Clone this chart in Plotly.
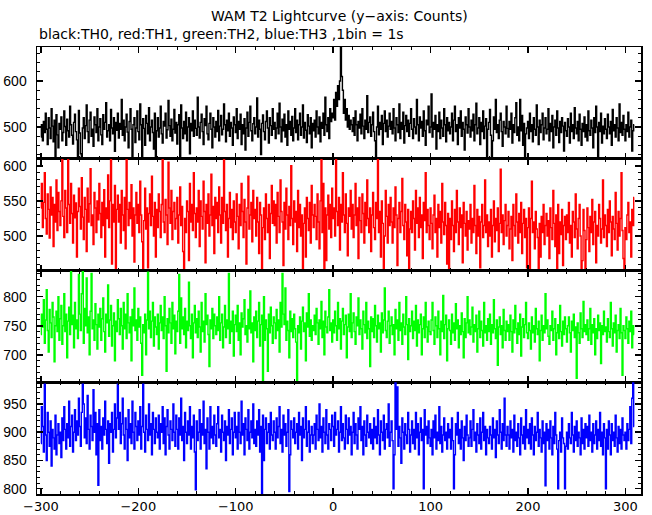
import plotly.graph_objects as go

X_START = -300

# TH0 (black) counts per 1 s bin, x = -300 .. 309
th0 = [
    478, 505, 470, 512, 488, 530, 495, 462, 520, 498, 475, 540, 502, 468, 515, 435, 527, 483, 455, 508,
    495, 522, 470, 488, 535, 501, 460, 517, 492, 478, 545, 505, 482, 463, 510, 528, 490, 472, 436, 536,
    487, 442, 433, 498, 520, 475, 503, 548, 490, 466, 515, 532, 480, 495, 458, 522, 505, 488, 540, 470,
    500, 518, 483, 462, 527, 495, 510, 553, 478, 492, 505, 470, 538, 498, 485, 520, 447, 510, 493, 530,
    476, 508, 495, 560, 482, 515, 470, 500, 528, 489, 455, 512, 540, 495, 435, 505, 520, 466, 498, 535,
    490, 472, 550, 505, 433, 518, 497, 460, 525, 508, 485, 542, 470, 500, 515, 488, 452, 530, 436, 492,
    520, 478, 498, 545, 485, 465, 512, 502, 530, 476, 494, 558, 503, 480, 517, 470, 495, 538, 487, 510,
    463, 505, 527, 434, 548, 498, 475, 512, 485, 532, 470, 500, 520, 442, 508, 492, 535, 480, 515, 497,
    482, 565, 500, 476, 510, 528, 490, 462, 518, 503, 545, 485, 472, 508, 530, 495, 455, 520, 500, 478,
    512, 490, 536, 470, 502, 525, 483, 495, 550, 505, 468, 515, 492, 530, 480, 510, 498, 460, 522, 505,
    488, 540, 475, 512, 495, 528, 462, 505, 485, 518, 450, 498, 532, 480, 510, 545, 492, 470, 507, 520,
    485, 500, 563, 478, 515, 495, 440, 508, 526, 490, 472, 512, 535, 498, 465, 520, 503, 482, 540, 495,
    510, 475, 498, 530, 485, 552, 500, 468, 517, 492, 528, 478, 505, 460, 535, 495, 512, 482, 523, 470,
    498, 540, 488, 515, 472, 505, 530, 482, 500, 548, 476, 510, 493, 466, 527, 502, 485, 520, 455, 508,
    492, 515, 478, 535, 500, 485, 522, 468, 510, 497, 530, 482, 565, 505, 490, 520, 475, 540, 512, 530,
    520, 560, 515, 575, 545, 590, 560, 600, 700, 610, 580, 530, 560, 515, 540, 500, 525, 495, 515, 505,
    490, 520, 482, 535, 505, 470, 512, 498, 528, 485, 540, 502, 475, 515, 495, 568, 488, 510, 522, 480,
    505, 532, 490, 470, 434, 500, 545, 483, 510, 495, 525, 462, 508, 535, 490, 515, 478, 502, 530, 495,
    512, 485, 540, 498, 470, 520, 505, 488, 550, 475, 510, 495, 532, 465, 503, 525, 490, 515, 480, 508,
    540, 495, 475, 518, 500, 485, 560, 505, 470, 522, 498, 512, 480, 535, 492, 460, 515, 505, 545, 488,
    500, 572, 478, 510, 495, 525, 452, 505, 490, 532, 475, 515, 498, 480, 540, 505, 468, 520, 492, 510,
    485, 500, 530, 470, 515, 545, 490, 505, 462, 520, 498, 535, 480, 510, 495, 450, 522, 505, 487, 540,
    500, 478, 515, 492, 528, 470, 505, 552, 485, 498, 520, 462, 510, 490, 535, 475, 502, 518, 434, 495,
    510, 538, 482, 434, 470, 522, 495, 560, 488, 505, 475, 515, 530, 490, 458, 512, 500, 485, 545, 497,
    478, 512, 495, 530, 465, 505, 488, 520, 553, 482, 500, 470, 560, 492, 525, 460, 508, 433, 485, 498,
    512, 475, 530, 490, 505, 468, 520, 495, 482, 548, 500, 462, 515, 488, 505, 530, 472, 498, 520, 485,
    495, 540, 470, 508, 490, 525, 455, 500, 515, 482, 535, 498, 466, 512, 488, 520, 502, 448, 510, 492,
    480, 518, 500, 465, 530, 490, 505, 475, 542, 498, 485, 512, 470, 528, 495, 460, 508, 490, 522, 478,
    505, 470, 535, 492, 482, 515, 498, 455, 520, 488, 545, 500, 434, 510, 490, 530, 465, 502, 485, 518,
    495, 475, 528, 500, 485, 512, 460, 538, 492, 505, 478, 520, 498, 470, 550, 488, 510, 482, 525, 495,
    470, 505, 490, 532, 478, 500, 515, 448, 492, 505,
]

# TH1 (red)
th1 = [
    540, 575, 512, 548, 590, 525, 503, 560, 538, 497, 570, 530, 555, 485, 545, 520, 580, 508, 562, 535,
    515, 550, 612, 528, 498, 565, 540, 505, 612, 545, 518, 575, 532, 490, 558, 526, 547, 470, 535, 568,
    542, 510, 583, 527, 495, 555, 538, 478, 568, 520, 546, 596, 515, 530, 488, 562, 540, 505, 550, 523,
    575, 532, 498, 548, 515, 566, 470, 540, 525, 587, 512, 550, 612, 460, 545, 520, 572, 448, 538, 558,
    520, 545, 490, 565, 530, 508, 555, 482, 610, 538, 515, 548, 525, 573, 500, 540, 463, 530, 562, 518,
    545, 505, 578, 530, 492, 448, 522, 568, 510, 540, 455, 532, 560, 515, 585, 528, 500, 548, 470, 538,
    512, 560, 535, 498, 545, 612, 520, 505, 552, 530, 488, 605, 540, 518, 565, 495, 535, 548, 510, 525,
    555, 490, 530, 570, 515, 542, 478, 448, 525, 505, 550, 535, 465, 575, 520, 545, 508, 590, 532, 498,
    540, 520, 565, 485, 550, 528, 510, 578, 535, 462, 545, 518, 560, 500, 530, 588, 515, 542, 475, 555,
    525, 548, 505, 570, 530, 490, 555, 518, 612, 535, 508, 545, 470, 525, 562, 512, 538, 495, 550, 520,
    505, 560, 528, 482, 545, 515, 575, 535, 498, 552, 520, 460, 540, 585, 510, 530, 548, 492, 565, 525,
    538, 500, 555, 520, 475, 548, 530, 448, 512, 540, 495, 560, 525, 505, 545, 468, 532, 572, 518, 550,
    515, 545, 490, 562, 528, 505, 580, 535, 520, 458, 548, 510, 568, 530, 495, 542, 515, 600, 525, 488,
    550, 520, 535, 478, 565, 512, 545, 500, 530, 448, 518, 540, 470, 555, 525, 508, 548, 490, 572, 530,
    512, 545, 528, 495, 560, 520, 482, 550, 612, 505, 575, 448, 540, 465, 530, 558, 510, 545, 498, 568,
    525, 540, 500, 610, 535, 515, 555, 480, 545, 520, 590, 530, 505, 560, 518, 472, 540, 528, 565, 510,
    545, 498, 530, 575, 515, 540, 468, 555, 522, 505, 560, 532, 490, 548, 515, 580, 525, 505, 540, 478,
    530, 562, 512, 495, 548, 525, 612, 505, 535, 470, 550, 518, 448, 500, 565, 528, 490, 545, 515, 555,
    520, 490, 540, 512, 570, 530, 458, 525, 548, 505, 535, 582, 515, 495, 545, 520, 472, 538, 448, 510,
    535, 505, 550, 525, 480, 565, 518, 540, 498, 555, 512, 530, 468, 548, 522, 590, 505, 538, 515, 495,
    540, 518, 482, 530, 558, 505, 525, 470, 545, 512, 535, 490, 575, 520, 502, 548, 515, 460, 532, 448,
    525, 495, 550, 515, 478, 538, 505, 565, 520, 488, 540, 512, 530, 462, 548, 518, 500, 535, 480, 522,
    510, 545, 490, 525, 505, 572, 515, 475, 538, 500, 528, 455, 520, 545, 498, 515, 580, 505, 530, 485,
    520, 500, 538, 470, 515, 550, 492, 525, 508, 540, 478, 518, 595, 505, 530, 488, 522, 545, 500, 515,
    535, 482, 510, 528, 465, 545, 515, 500, 560, 520, 490, 532, 505, 548, 475, 518, 538, 498, 525, 455,
    512, 540, 448, 525, 578, 505, 520, 482, 535, 510, 498, 448, 518, 470, 528, 505, 545, 488, 515, 532,
    500, 522, 468, 540, 512, 495, 565, 518, 485, 530, 448, 545, 475, 520, 502, 538, 458, 515, 528, 495,
    530, 505, 548, 490, 515, 470, 535, 520, 498, 560, 510, 482, 525, 545, 500, 448, 465, 538, 508, 448,
    495, 540, 512, 478, 528, 505, 552, 488, 520, 535, 462, 515, 500, 545, 525, 490, 510, 580, 498, 530,
    515, 485, 538, 505, 550, 520, 472, 528, 510, 495, 562, 518, 480, 535, 500, 525, 590, 508, 468, 448,
    512, 495, 530, 548, 505, 520, 470, 538, 515, 555,
]

# TH2 (green)
th2 = [
    735, 770, 748, 795, 720, 760, 812, 742, 705, 778, 755, 730, 790, 765, 688, 750, 775, 740, 800, 725,
    762, 785, 718, 750, 805, 740, 770, 695, 758, 782, 735, 845, 752, 768, 712, 790, 745, 760, 728, 838,
    770, 742, 805, 845, 720, 780, 750, 832, 738, 765, 700, 775, 840, 745, 760, 725, 788, 752, 710, 770,
    748, 780, 725, 762, 798, 740, 705, 770, 755, 820, 732, 760, 785, 715, 750, 772, 690, 758, 740, 795,
    762, 735, 780, 750, 710, 790, 745, 770, 728, 805, 755, 738, 765, 690, 778, 750, 815, 742, 760, 725,
    780, 748, 765, 720, 665, 752, 738, 770, 700, 760, 842, 745, 775, 730, 758, 790, 715, 765, 748, 735,
    770, 710, 755, 785, 742, 765, 728, 800, 750, 672, 762, 738, 780, 755, 720, 790, 745, 768, 702, 758,
    740, 775, 838, 720, 798, 745, 765, 735, 780, 712, 758, 742, 825, 750, 728, 770, 695, 755, 785, 738,
    762, 730, 775, 748, 705, 790, 740, 758, 722, 805, 752, 768, 735, 680, 760, 745, 780, 728, 770, 750,
    735, 765, 742, 800, 725, 755, 770, 712, 748, 785, 730, 760, 745, 840, 720, 758, 740, 775, 698, 752,
    768, 740, 785, 725, 755, 700, 772, 748, 762, 795, 735, 750, 722, 778, 745, 810, 738, 755, 688, 765,
    742, 775, 730, 758, 790, 715, 752, 768, 655, 800, 725, 760, 745, 672, 770, 738, 782, 750, 720, 765,
    755, 728, 778, 742, 760, 705, 790, 748, 840, 770, 752, 815, 725, 758, 742, 695, 775, 740, 762, 730,
    770, 745, 722, 655, 750, 738, 765, 710, 758, 782, 740, 755, 690, 772, 748, 805, 732, 760, 725, 750,
    742, 768, 735, 780, 755, 718, 760, 745, 792, 730, 758, 700, 775, 748, 738, 765, 812, 742, 755, 722,
    760, 738, 775, 750, 725, 790, 745, 762, 710, 758, 780, 735, 752, 768, 695, 748, 770, 740, 805, 730,
    755, 772, 740, 718, 765, 750, 798, 735, 760, 745, 710, 775, 752, 738, 790, 728, 758, 745, 680, 765,
    740, 762, 730, 785, 750, 722, 768, 745, 755, 705, 772, 738, 760, 815, 742, 730, 758, 775, 720, 750,
    765, 735, 752, 700, 778, 745, 760, 725, 790, 742, 755, 718, 770, 748, 735, 800, 752, 692, 762, 740,
    750, 775, 728, 758, 742, 785, 715, 760, 738, 752, 770, 700, 745, 765, 730, 790, 748, 722, 758, 740,
    735, 760, 790, 742, 718, 765, 750, 730, 775, 745, 700, 758, 740, 802, 728, 752, 768, 690, 745, 760,
    742, 718, 770, 738, 755, 725, 788, 745, 760, 712, 750, 735, 772, 740, 695, 762, 730, 755, 800, 738,
    760, 735, 748, 782, 722, 752, 740, 768, 705, 745, 775, 730, 758, 742, 715, 790, 738, 750, 725, 762,
    740, 770, 718, 752, 738, 795, 745, 728, 760, 682, 748, 765, 735, 750, 712, 778, 742, 725, 758, 740,
    752, 725, 768, 740, 705, 760, 738, 785, 745, 720, 755, 735, 770, 698, 748, 762, 730, 752, 790, 738,
    728, 755, 742, 710, 765, 738, 750, 722, 780, 745, 735, 758, 690, 742, 768, 725, 750, 738, 805, 745,
    760, 732, 718, 750, 742, 775, 725, 745, 762, 700, 738, 752, 728, 785, 740, 715, 758, 735, 765, 745,
    722, 750, 765, 738, 705, 758, 742, 770, 730, 748, 660, 755, 738, 720, 772, 745, 730, 792, 740, 752,
    735, 760, 725, 745, 780, 718, 752, 738, 762, 700, 745, 728, 768, 742, 755, 685, 750, 735, 775, 740,
    748, 722, 762, 740, 730, 790, 745, 715, 755, 738, 768, 705, 742, 752, 728, 780, 738, 665, 750, 742,
    728, 765, 745, 720, 758, 740, 775, 712, 750, 735,
]

# TH3 (blue)
th3 = [
    880, 945, 910, 865, 985, 895, 850, 935, 900, 875, 920, 840, 905, 890, 870, 930, 860, 895, 915, 880,
    900, 855, 925, 885, 945, 905, 870, 915, 890, 955, 875, 910, 930, 865, 900, 940, 885, 920, 895, 960,
    910, 875, 935, 985, 950, 890, 925, 880, 965, 905, 870, 930, 910, 885, 975, 900, 935, 860, 915, 806,
    940, 885, 910, 870, 925, 895, 955, 905, 880, 920, 845, 915, 900, 935, 865, 905, 950, 890, 925, 985,
    905, 935, 880, 915, 960, 895, 870, 925, 905, 850, 940, 890, 915, 880, 955, 900, 870, 935, 910, 885,
    920, 895, 945, 870, 910, 985, 900, 865, 930, 905, 885, 950, 895, 915, 860, 935, 905, 880, 925, 900,
    890, 930, 870, 915, 900, 945, 880, 925, 860, 910, 940, 895, 870, 920, 905, 885, 950, 900, 875, 930,
    905, 870, 925, 895, 960, 885, 910, 850, 935, 900, 880, 920, 895, 945, 870, 910, 890, 930, 865, 798,
    920, 885, 900, 940, 870, 915, 895, 955, 880, 905, 835, 925, 900, 870, 945, 890, 910, 880, 930, 895,
    875, 915, 945, 890, 905, 865, 930, 900, 885, 920, 850, 910, 895, 940, 880, 905, 925, 860, 900, 935,
    890, 910, 870, 935, 900, 880, 955, 895, 915, 860, 925, 905, 885, 940, 870, 900, 920, 890, 950, 880,
    905, 875, 920, 895, 940, 865, 910, 792, 930, 850, 905, 925, 880, 900, 915, 870, 935, 895, 885, 920,
    900, 870, 925, 890, 910, 945, 880, 905, 865, 930, 895, 915, 875, 900, 940, 795, 860, 920, 905, 890,
    925, 880, 900, 915, 870, 935, 895, 910, 850, 925, 890, 905, 945, 875, 900, 920, 865, 895, 910, 880,
    895, 915, 870, 930, 905, 885, 950, 890, 910, 865, 925, 900, 880, 940, 895, 870, 915, 905, 885, 930,
    910, 875, 935, 895, 905, 920, 865, 900, 945, 885, 915, 890, 870, 930, 905, 880, 925, 895, 910, 860,
    900, 935, 880, 915, 895, 870, 925, 905, 945, 885, 910, 860, 920, 895, 875, 930, 900, 890, 915, 880,
    905, 870, 925, 890, 910, 880, 940, 895, 860, 920, 900, 885, 930, 870, 905, 915, 890, 950, 875, 900,
    920, 885, 800, 860, 988, 905, 980, 875, 910, 890, 845, 925, 900, 870, 915, 895, 880, 935, 905, 865,
    895, 920, 880, 905, 870, 935, 890, 915, 860, 900, 925, 885, 905, 800, 940, 895, 910, 880, 920, 890,
    875, 905, 860, 920, 890, 930, 870, 900, 885, 945, 880, 910, 865, 895, 925, 885, 900, 870, 915, 890,
    905, 870, 925, 885, 800, 860, 915, 895, 935, 880, 905, 870, 920, 890, 850, 910, 885, 930, 895, 875,
    890, 920, 875, 905, 940, 885, 900, 865, 915, 895, 880, 925, 870, 900, 935, 885, 910, 860, 905, 890,
    880, 910, 895, 870, 925, 890, 905, 855, 920, 895, 880, 940, 900, 870, 915, 885, 960, 895, 875, 910,
    895, 870, 920, 890, 905, 865, 930, 885, 900, 875, 915, 890, 860, 925, 895, 880, 910, 870, 940, 890,
    905, 880, 915, 870, 925, 895, 860, 910, 885, 900, 935, 875, 905, 890, 865, 920, 880, 900, 805, 915,
    885, 905, 870, 920, 890, 860, 910, 880, 935, 895, 870, 800, 885, 900, 865, 925, 890, 880, 800, 875,
    900, 870, 915, 890, 880, 935, 895, 865, 910, 885, 920, 875, 900, 890, 860, 925, 880, 905, 870, 915,
    890, 910, 875, 930, 885, 900, 865, 915, 880, 895, 920, 870, 905, 885, 935, 875, 900, 860, 915, 890,
    800, 905, 870, 920, 895, 860, 915, 885, 900, 875, 930, 890, 865, 910, 880, 905, 870, 925, 895, 885,
    900, 870, 915, 885, 905, 945, 880, 960, 988, 910,
]

series = [th0, th1, th2, th3]
colors = ["#000000", "#ff0000", "#00ff00", "#0000ff"]
y_ranges = [[431, 674], [451, 610], [653, 845], [790.6, 988.4]]
y_dticks = [100, 50, 50, 50]
y_minor = [20, 10, 10, 10]
x_range = [-304, 316]

FONT = "DejaVu Sans, Liberation Sans, Arial, sans-serif"
YFONT = "Liberation Sans, Arial, Helvetica, sans-serif"

fig = go.Figure()
n = len(series)
for i, (vals, col) in enumerate(zip(series, colors)):
    xs = list(range(X_START, X_START + len(vals)))
    sfx = "" if i == 0 else str(i + 1)
    fig.add_trace(go.Scatter(
        x=xs, y=vals, mode="lines",
        line=dict(color=col, width=1.4, shape="hvh"),
        xaxis="x" + sfx, yaxis="y" + sfx, showlegend=False,
        hoverinfo="skip",
    ))

PLOT_H = 515 - 47 - 21

layout = dict(
    width=652, height=515,
    margin=dict(l=37, r=11, t=47, b=21, autoexpand=False),
    paper_bgcolor="white", plot_bgcolor="white",
    font=dict(family=FONT, size=14, color="black"),
    showlegend=False,
)

for i in range(n):
    sfx = "" if i == 0 else str(i + 1)
    top = 1 - i / n
    bot = 1 - (i + 1) / n
    layout["xaxis" + sfx] = dict(
        domain=[0, 1], anchor="y" + sfx, range=x_range,
        showgrid=False, zeroline=False, automargin=False,
        showline=True, linecolor="black", linewidth=1.5, mirror="allticks",
        ticks="inside", ticklen=6, tickwidth=1.5, tickcolor="black",
        dtick=100, tick0=0,
        minor=dict(ticks="inside", ticklen=3, tickwidth=1, tickcolor="black", dtick=20, tick0=0),
        showticklabels=(i == n - 1),
        tickfont=dict(family=FONT, size=13, color="black"),
        matches=None if i == 0 else "x",
    )
    layout["yaxis" + sfx] = dict(
        domain=[bot, top], anchor="x" + sfx, range=y_ranges[i],
        showgrid=False, zeroline=False, automargin=False,
        showline=True, linecolor="black", linewidth=1.5, mirror="allticks",
        ticks="inside", ticklen=6, tickwidth=1.5, tickcolor="black",
        dtick=y_dticks[i], tick0=0,
        minor=dict(ticks="inside", ticklen=3, tickwidth=1, tickcolor="black", dtick=y_minor[i], tick0=0),
        tickfont=dict(family=YFONT, size=14, color="black"),
        ticklabelstandoff=6,
    )

fig.update_layout(**layout)

fig.add_annotation(
    text="WAM T2 Lightcurve (y\u2212axis: Counts)",
    xref="paper", yref="paper", x=0.5, y=1 + 31 / PLOT_H,
    xanchor="center", yanchor="middle", showarrow=False,
    font=dict(family=FONT, size=14, color="black"),
)
fig.add_annotation(
    text="black:TH0, red:TH1, green:TH2, blue:TH3 ,1bin = 1s",
    xref="paper", yref="paper", x=0, y=1 + 13 / PLOT_H,
    xanchor="left", yanchor="middle", showarrow=False,
    font=dict(family=FONT, size=14, color="black"),
)

fig.write_html(
    "out.html",
    config={"displayModeBar": False, "staticPlot": True},
    post_script="document.body.style.margin='0';document.body.style.padding='0';",
)
